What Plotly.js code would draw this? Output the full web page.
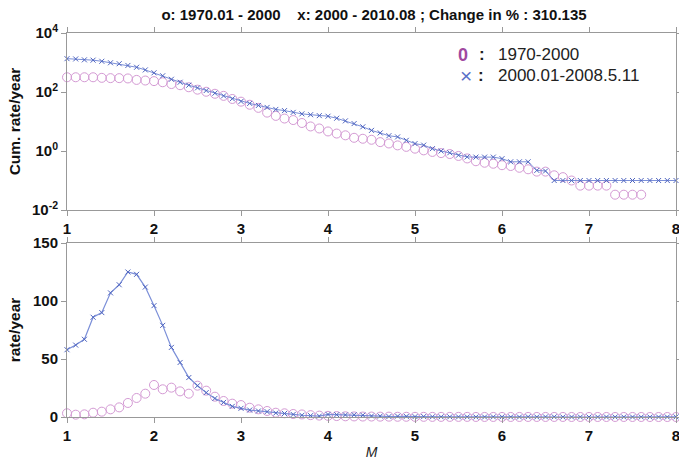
<!DOCTYPE html>
<html>
<head>
<meta charset="utf-8">
<script src="https://cdn.plot.ly/plotly-3.0.1.min.js"></script>
<style>html,body{margin:0;padding:0;background:#fff;}#chart{width:679px;height:462px;}</style>
</head>
<body>
<div id="chart"></div>
<script>
// Magnitude bins
const M = [1.0,1.1,1.2,1.3,1.4,1.5,1.6,1.7,1.8,1.9,
           2.0,2.1,2.2,2.3,2.4,2.5,2.6,2.7,2.8,2.9,
           3.0,3.1,3.2,3.3,3.4,3.5,3.6,3.7,3.8,3.9,
           4.0,4.1,4.2,4.3,4.4,4.5,4.6,4.7,4.8,4.9,
           5.0,5.1,5.2,5.3,5.4,5.5,5.6,5.7,5.8,5.9,
           6.0,6.1,6.2,6.3,6.4,6.5,6.6,6.7,6.8,6.9,
           7.0,7.1,7.2,7.3,7.4,7.5,7.6,7.7,7.8,7.9,8.0];
const M_old = [1.0,1.1,1.2,1.3,1.4,1.5,1.6,1.7,1.8,1.9,
           2.0,2.1,2.2,2.3,2.4,2.5,2.6,2.7,2.8,2.9,
           3.0,3.1,3.2,3.3,3.4,3.5,3.6,3.7,3.8,3.9,
           4.0,4.1,4.2,4.3,4.4,4.5,4.6,4.7,4.8,4.9,
           5.0,5.1,5.2,5.3,5.4,5.5,5.6,5.7,5.8,5.9,
           6.0,6.1,6.2,6.3,6.4,6.5,6.6,6.7,6.8,6.9,
           7.0,7.1,7.2,7.3,7.4,7.5,7.6];

// Cumulative rate / year
const cumOld = [316,316,316,316,302,295,295,288,257,245,
                234,214,186,170,145,120,102,87,74,58,
                47,37,29,20,15.5,12.6,11.2,8.9,6.8,5.8,
                4.6,3.9,3.4,2.8,2.6,2.4,2.0,1.8,1.55,1.38,
                1.2,1.05,0.93,0.85,0.79,0.68,0.56,0.45,0.40,0.37,
                0.33,0.31,0.27,0.24,0.20,0.20,0.15,0.13,0.10,0.067,
                0.067,0.067,0.067,0.033,0.033,0.033,0.033];
const cumNew = [1350,1320,1230,1200,1100,980,910,795,690,560,
                447,355,270,214,170,138,112,91,74,59,
                48,41,35,30,25.7,23.4,20.4,18.2,17.0,15.8,
                15.1,12.9,10.5,8.5,6.6,5.0,4.1,3.3,3.0,2.3,
                1.78,1.58,1.20,1.00,0.87,0.72,0.63,0.62,0.62,0.62,
                0.55,0.43,0.43,0.43,0.22,0.21,0.1,0.1,0.1,0.1,
                0.1,0.1,0.1,0.1,0.1,0.1,0.1,0.1,0.1,0.1,0.1];

// Non-cumulative rate / year
const rateOld = [3.2,2.0,2.3,3.7,4.6,6.6,8.3,12.1,16.4,20.1,
                 27.6,23.9,25.3,22.1,20.1,27.0,22.7,17.5,13.8,11.5,
                 10.3,8.0,6.6,5.2,3.7,3.2,2.6,2.2,1.6,1.2,
                 1.0,0.8,0.6,0.5,0.4,0.4,0.3,0.3,0.2,0.2,
                 0.15,0.15,0.1,0.1,0.1,0.1,0.1,0.05,0.05,0.05,
                 0.05,0.05,0.05,0.05,0.05,0.05,0.05,0.05,0.03,0.03,
                 0.03,0.03,0.03,0.03,0.03,0.03,0.03,0,0,0,0];
const rateNew = [58,62,67,86,90,107,114,125,123,112,
                 96,79,60,47,34,27,21,16,12.6,9.2,
                 7.5,6.0,5.2,4.6,3.4,3.0,2.2,1.5,1.2,0.8,
                 2.2,2.0,1.8,1.9,1.6,0.9,0.8,0.4,0.7,0.5,
                 0.3,0.4,0.2,0.15,0.15,0.1,0.05,0,0,0.1,
                 0.12,0,0,0.2,0,0.1,0.1,0,0,0,
                 0,0,0,0,0,0,0,0,0,0,0.1];

const titleText = 'o: 1970.01 - 2000\u00a0\u00a0\u00a0\u00a0x: 2000 - 2010.08 ; Change in % : 310.135';
const legOld = '1970-2000';
const legNew = '2000.01-2008.5.11';
const xTicks = [1,2,3,4,5,6,7,8];

const purple = '#d49ad4';
const blueLine = '#7b8fd8';
const blueMark = '#4f65c0';
const F = 'Liberation Sans, Arial, sans-serif';

const oldMarker = {symbol:'circle-open', size:9, color:purple, line:{width:1, color:purple}};
const newMarker = {symbol:'x-thin-open', size:5, color:blueMark, line:{width:1, color:blueMark}};

const traces = [
  {x:M_old, y:cumOld, xaxis:'x', yaxis:'y', mode:'markers', marker:oldMarker, showlegend:false, cliponaxis:false},
  {x:M, y:cumNew, xaxis:'x', yaxis:'y', mode:'lines+markers', line:{color:blueLine, width:1}, marker:newMarker, showlegend:false, cliponaxis:false},
  {x:M, y:rateOld, xaxis:'x2', yaxis:'y2', mode:'markers', marker:oldMarker, showlegend:false, cliponaxis:false},
  {x:M, y:rateNew, xaxis:'x2', yaxis:'y2', mode:'lines+markers', line:{color:blueLine, width:1.2}, marker:newMarker, showlegend:false, cliponaxis:false}
];

const tickFont = {family:F, size:15, color:'#111', weight:'bold'};
const axBase = {showline:true, linecolor:'#999', linewidth:1, mirror:'ticks', ticks:'outside', ticklen:5, tickcolor:'#999',
                showgrid:false, zeroline:false, tickfont:tickFont, ticklabeloverflow:'allow'};

const legFont = {family:F, size:17, color:'#222'};
const py = p => (417 - p) / 384;
const px = p => (p - 67) / 609;

const layout = {
  width:679, height:462,
  margin:{l:67, r:3, t:33, b:45},
  paper_bgcolor:'#fff', plot_bgcolor:'#fff',
  title:{text:'<b>'+titleText+'</b>', font:{family:F, size:15, color:'#111'}, x:374/679, xanchor:'center', xref:'container', y:1-15/462, yanchor:'middle', yref:'container'},
  xaxis:Object.assign({}, axBase, {domain:[0,1], anchor:'y', range:[1,8], tickvals:xTicks, ticktext:xTicks.map(String)}),
  yaxis:Object.assign({}, axBase, {domain:[1-177/384,1], anchor:'x', type:'log', range:[-2,4],
        tickvals:[0.01,1,100,10000], ticktext:['10<sup>-2</sup>','10<sup>0</sup>','10<sup>2</sup>','10<sup>4</sup>'],
        title:{text:'<b>Cum. rate/year</b>', font:{family:F, size:15.5, color:'#111'}, standoff:7}}),
  xaxis2:Object.assign({}, axBase, {domain:[0,1], anchor:'y2', range:[1,8], tickvals:xTicks, ticktext:xTicks.map(String),
        title:{text:'<i>M</i>', font:{family:F, size:14, color:'#222'}, standoff:4}}),
  yaxis2:Object.assign({}, axBase, {domain:[0,174/384], anchor:'x2', range:[0,150], tickvals:[0,50,100,150],
        title:{text:'<b>rate/year</b>', font:{family:F, size:15.5, color:'#111'}, standoff:8}}),
  annotations:[
    {xref:'paper', yref:'paper', x:px(463), y:py(55), xanchor:'center', yanchor:'middle', showarrow:false,
     text:'<b>0</b>', font:{family:F, size:18, color:'#a0489f'}},
    {xref:'paper', yref:'paper', x:px(482), y:py(55), xanchor:'center', yanchor:'middle', showarrow:false,
     text:'<b>:</b>', font:legFont},
    {xref:'paper', yref:'paper', x:px(496), y:py(55), xanchor:'left', yanchor:'middle', showarrow:false,
     text:legOld, font:legFont},
    {xref:'paper', yref:'paper', x:px(466), y:py(76), xanchor:'center', yanchor:'middle', showarrow:false,
     text:'\u00d7', font:{family:F, size:21, color:'#5a6fc8'}},
    {xref:'paper', yref:'paper', x:px(481), y:py(76), xanchor:'center', yanchor:'middle', showarrow:false,
     text:'<b>:</b>', font:legFont},
    {xref:'paper', yref:'paper', x:px(496), y:py(76), xanchor:'left', yanchor:'middle', showarrow:false,
     text:legNew, font:legFont}
  ]
};

Plotly.newPlot('chart', traces, layout, {displayModeBar:false, staticPlot:true});
</script>
</body>
</html>
